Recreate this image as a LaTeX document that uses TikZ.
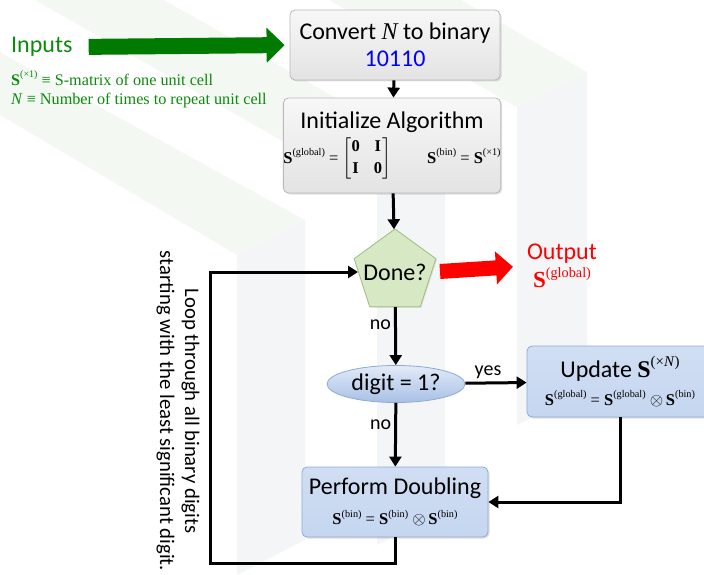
\documentclass[tikz,border=0pt]{standalone}
\usepackage{amsmath}
\usepackage{fontspec}
\setmainfont{Carlito}
\newfontfamily\tms{Liberation Serif}
\usetikzlibrary{calc,shapes.geometric,shadows,arrows.meta}
\definecolor{inpgreen}{RGB}{12,138,12}
\definecolor{arrgreen}{RGB}{0,122,0}
\definecolor{wmgray}{RGB}{244,245,247}
\definecolor{wmgreen}{RGB}{243,248,243}
\definecolor{boxblue}{RGB}{197,214,240}
\definecolor{edgeblue}{RGB}{141,170,214}
\definecolor{ellbot}{RGB}{168,192,230}
\definecolor{pentgreen}{RGB}{214,232,196}
\definecolor{pentedge}{RGB}{160,188,124}
\newcommand{\bigf}{\fontsize{24bp}{28bp}\selectfont}
\newcommand{\midf}{\fontsize{20.7bp}{25bp}\selectfont}
\newcommand{\eqf}{\tms\fontsize{16.5bp}{19bp}\selectfont}
\newcommand{\inpf}{\tms\fontsize{16.2bp}{20bp}\selectfont}
\makeatletter
\newcommand{\Smat}[1]{\textbf{S}\raisebox{0.45em}{\fontsize{\fpeval{round(\f@size*0.62,2)}}{1}\selectfont(#1)}}
\makeatother
\tikzset{
  graybox/.style={draw=gray!55, line width=0.8bp, rounded corners=5bp,
    top color=gray!6, bottom color=gray!22, align=center, inner sep=0pt,
    font=\bigf, drop shadow={opacity=0.25, shadow xshift=1.5bp, shadow yshift=-1.5bp}},
  bluebox/.style={graybox, draw=edgeblue, top color=boxblue!80, bottom color=boxblue},
  decision/.style={regular polygon, regular polygon sides=5, minimum size=86bp,
    inner sep=0pt, draw=pentedge, line width=0.8bp, fill=pentgreen,
    font=\bigf, drop shadow={opacity=0.2, shadow xshift=1bp, shadow yshift=-1bp}},
  query/.style={ellipse, minimum width=138bp, minimum height=37bp, inner sep=0pt,
    draw=edgeblue, line width=0.8bp, top color=boxblue!50, bottom color=ellbot,
    font=\bigf},
  flow/.style={line width=3bp, -{Triangle[length=10bp,width=12bp]}},
  inarrow/.style={draw=arrgreen, line width=16bp, -{Triangle[length=18bp,width=34bp]},
    shorten <=14bp, shorten >=5bp},
  outarrow/.style={draw=red, line width=15bp, -{Triangle[length=17bp,width=32bp]},
    shorten <=8bp, shorten >=12bp},
  lbl/.style={font=\fontsize{20bp}{22bp}\selectfont, inner sep=3bp}
}
\begin{document}
\begin{tikzpicture}[x=1bp,y=-1bp]
\useasboundingbox (0,0) rectangle (704,575);
\fill[wmgreen] (0,52) -- (305,220) -- (237,255) -- (0,115) -- cycle;
\fill[wmgreen] (35,0) -- (164,0) -- (445,160) -- (377,195) -- cycle;
\fill[wmgreen] (329,0) -- (461,0) -- (587,72) -- (517,107) -- cycle;
\fill[wmgray] (237,255) -- (305,220) -- (305,540) -- (237,575) -- cycle;
\fill[wmgray] (377,195) -- (445,160) -- (445,510) -- (377,545) -- cycle;
\fill[wmgray] (517,107) -- (587,72) -- (587,390) -- (517,425) -- cycle;

\node[font=\bigf, text=inpgreen, anchor=west, inner sep=2bp] (inp) at (9,47) {Inputs};
\node[font=\inpf, text=inpgreen, anchor=west, inner sep=2bp] (sdef) at (9,78)
  {\Smat{×1} ≡ S-matrix of one unit cell};
\node[font=\inpf, text=inpgreen, anchor=west, inner sep=2bp] (ndef) at (9,101)
  {\textit{N} ≡ Number of times to repeat unit cell};

\node[graybox, minimum width=210bp, minimum height=70bp] (conv) at (395,45)
  {Convert {\tms\itshape N} to binary\\[-1bp] \textcolor{blue}{10110}};
\node[graybox, minimum width=215bp, minimum height=95bp] (init) at (392,145.5)
  {Initialize Algorithm\\[5bp]
  {\eqf \Smat{global} = $\arraycolsep=7bp\left[\begin{matrix}\text{\bfseries 0} & \text{\bfseries I}\\[3bp]
  \text{\bfseries I} & \text{\bfseries 0}\end{matrix}\right]$\hspace{36bp}\Smat{bin} = \Smat{×1}}};
\node[decision] (done) at (395,272) {\makebox[40bp]{Done?}};
\node[align=center, text=red, font=\bigf, inner sep=2bp] (outp) at (562,266)
  {Output\\ {\tms\fontsize{23bp}{26bp}\selectfont\Smat{global}}};
\node[query] (digit) at (396,384) {digit = 1?};
\node[bluebox, minimum width=186bp, minimum height=71bp] (upd) at (620,381.5)
  {Update {\tms\Smat{×\textit{N}}}\\[0bp] {\eqf \Smat{global} = \Smat{global} $\otimes$\,\Smat{bin}}};
\node[bluebox, minimum width=186bp, minimum height=70bp] (perf) at (395,502)
  {Perform Doubling\\[2bp] {\eqf \Smat{bin} = \Smat{bin} $\otimes$\,\Smat{bin}}};
\node[rotate=-90, align=center, font=\midf] (looptxt) at (178,411)
  {Loop through all binary digits\\starting with the least significant digit.};
\coordinate (lp) at (210,563);

\draw[inarrow] (inp.east) -- (conv.west);
\draw[outarrow] (done.east) -- (outp.west);
\draw[flow] (conv) -- (init);
\draw[flow] (init) -- (done);
\draw[flow] (done) -- node[lbl, left, pos=0.3] (no1) {no} (digit);
\draw[flow] (digit) -- node[lbl, above, pos=0.37] (yes) {yes} (upd);
\draw[flow] (digit) -- node[lbl, left, pos=0.35] (no2) {no} (perf);
\draw[flow] (upd.south) |- (perf.east);
\draw[flow] (perf.south) |- (lp) |- (done.west);
\end{tikzpicture}
\end{document}
